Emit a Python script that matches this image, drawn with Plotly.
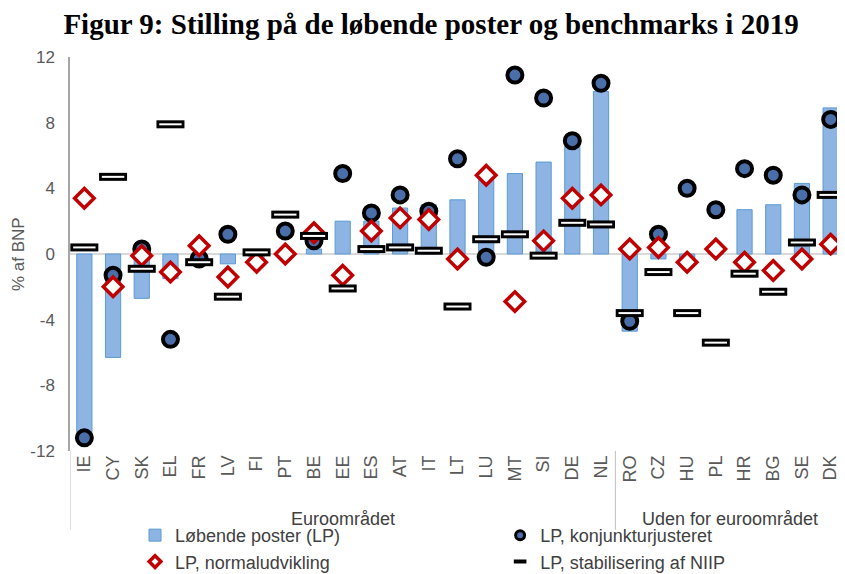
import plotly.graph_objects as go

countries = ["IE", "CY", "SK", "EL", "FR", "LV", "FI", "PT", "BE", "EE", "ES", "AT", "IT", "LT",
             "LU", "MT", "SI", "DE", "NL", "RO", "CZ", "HU", "PL", "HR", "BG", "SE", "DK"]
groups = ["Euroområdet", "Uden for euroområdet"]
n_euro = 19

lp = [-11.0, -6.3, -2.7, -1.5, -0.7, -0.6, -0.2, -0.1, 0.3, 2.0, 2.0, 2.8, 3.0, 3.3,
      4.5, 4.9, 5.6, 7.1, 9.9, -4.7, -0.3, -0.5, 0.4, 2.7, 3.0, 4.3, 8.9]
konj = [-11.2, -1.3, 0.3, -5.2, -0.3, 1.2, None, 1.4, 0.8, 4.9, 2.5, 3.6, 2.6, 5.8,
        -0.2, 10.9, 9.5, 6.9, 10.4, -4.1, 1.2, 4.0, 2.7, 5.2, 4.8, 3.6, 8.2]
normal = [3.4, -2.0, -0.1, -1.1, 0.5, -1.4, -0.5, 0.0, 1.3, -1.3, 1.4, 2.2, 2.1, -0.3,
          4.8, -2.9, 0.8, 3.4, 3.6, 0.3, 0.4, -0.5, 0.3, -0.5, -1.0, -0.3, 0.6]
niip = [0.4, 4.7, -0.9, 7.9, -0.5, -2.6, 0.1, 2.4, 1.1, -2.1, 0.3, 0.4, 0.2, -3.2,
        0.9, 1.2, -0.1, 1.9, 1.8, -3.6, -1.1, -3.6, -5.4, -1.2, -2.3, 0.7, 3.6]

names = ["Løbende poster (LP)", "LP, konjunkturjusteret", "LP, normaludvikling",
         "LP, stabilisering af NIIP"]
yticks = [12, 8, 4, 0, -4, -8, -12]

fig = go.Figure()
fig.add_trace(go.Bar(x=countries, y=lp, name=names[0], legend="legend",
                     marker=dict(color="#8DB4E2", line=dict(color="#5B9BD5", width=1))))
fig.add_trace(go.Scatter(x=countries, y=konj, mode="markers", name=names[1], showlegend=False,
                         marker=dict(symbol="circle", size=15, color="#4A6FA8",
                                     line=dict(color="black", width=4))))
fig.add_trace(go.Scatter(x=countries, y=normal, mode="markers", name=names[2], showlegend=False,
                         marker=dict(symbol="diamond", size=15, color="white",
                                     line=dict(color="#C00000", width=3.5))))
fig.add_trace(go.Scatter(x=countries, y=niip, mode="markers", name=names[3], showlegend=False,
                         marker=dict(symbol="line-ew", size=20, color="black",
                                     line=dict(color="black", width=8))))
fig.add_trace(go.Scatter(x=countries, y=niip, mode="markers", showlegend=False, hoverinfo="skip",
                         marker=dict(symbol="line-ew", size=16, color="white",
                                     line=dict(color="white", width=2))))

# legend-only entries with smaller symbols, as in the reference legend
fig.add_trace(go.Scatter(x=[None], y=[None], mode="markers", name=names[2], legend="legend",
                         marker=dict(symbol="diamond", size=9, color="white",
                                     line=dict(color="#C00000", width=3.5))))
fig.add_trace(go.Scatter(x=[None], y=[None], mode="markers", name=names[1], legend="legend2",
                         marker=dict(symbol="circle", size=9, color="#4A6FA8",
                                     line=dict(color="black", width=3))))
fig.add_trace(go.Scatter(x=[None], y=[None], mode="markers", name=names[3], legend="legend2",
                         marker=dict(symbol="line-ew", size=9, color="black",
                                     line=dict(color="black", width=4))))

# group dividers and labels
for xv in [-0.5, n_euro - 0.5, len(countries) - 0.5]:
    fig.add_shape(type="line", xref="x", yref="paper", x0=xv, x1=xv, y0=0, y1=-0.2,
                  line=dict(color="#BFBFBF", width=1))
fig.add_annotation(x=(n_euro - 1) / 2, y=-0.173, xref="x", yref="paper", text=groups[0],
                   showarrow=False, yanchor="middle", font=dict(size=18, color="#404040"))
fig.add_annotation(x=(n_euro + len(countries) - 1) / 2, y=-0.173, xref="x", yref="paper",
                   text=groups[1], showarrow=False, yanchor="middle",
                   font=dict(size=18, color="#404040"))
# y-axis title
fig.add_annotation(x=-0.067, y=0.5, xref="paper", yref="paper", text="% af BNP",
                   textangle=-90, showarrow=False, xanchor="center", yanchor="middle",
                   font=dict(size=17, color="#595959"))

leg_common = dict(orientation="v", yanchor="top", xanchor="left", y=-0.1674,
                  font=dict(size=18, color="#404040"), itemwidth=30, tracegroupgap=0,
                  bgcolor="rgba(0,0,0,0)")

# the page places the figure with an 8 px body margin, so the figure is sized to the visible area
fig.update_layout(
    width=837, height=566,
    margin=dict(l=62, r=0, t=49, b=123, autoexpand=False),
    paper_bgcolor="white", plot_bgcolor="white",
    font=dict(family="Liberation Sans, Arial, sans-serif", color="#404040"),
    title=dict(text="<b>Figur 9: Stilling på de løbende poster og benchmarks i 2019</b>",
               x=0.5054, xanchor="center", y=0.9717, yanchor="middle",
               font=dict(family="Liberation Serif, Times New Roman, serif", size=29, color="black")),
    bargap=0.47,
    showlegend=True,
    legend=dict(x=0.0839, **leg_common),
    legend2=dict(x=0.555, **leg_common),
    xaxis=dict(type="category", tickangle=-90, tickfont=dict(size=18, color="#595959"),
               showline=False, showgrid=False, ticks="", range=[-0.5, len(countries) - 0.5],
               automargin=False),
    yaxis=dict(range=[-12, 12], tickvals=yticks, ticktext=[str(v) for v in yticks],
               tickfont=dict(size=17, color="#595959"), showgrid=False, ticklabelstandoff=10,
               showline=True, linecolor="#A6A6A6", linewidth=1.5,
               zeroline=True, zerolinecolor="#D9D9D9", zerolinewidth=2, automargin=False),
)

fig.write_html("out.html")
